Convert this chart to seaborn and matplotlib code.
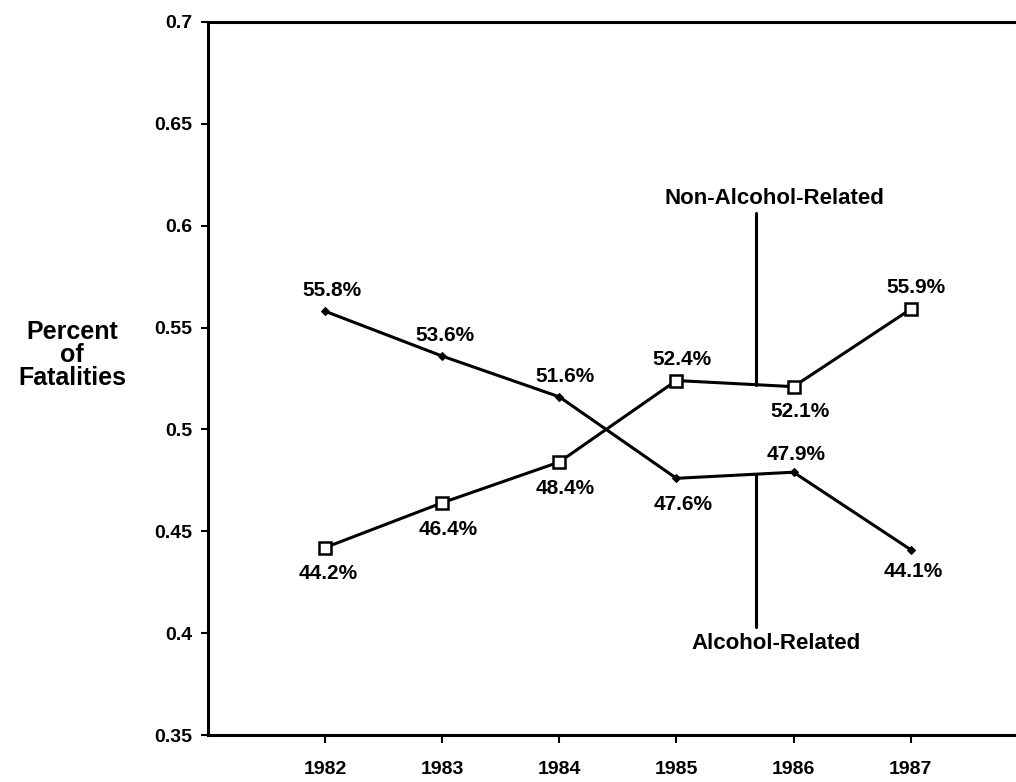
import numpy as np
import pandas as pd
import matplotlib
matplotlib.use("Agg")
import matplotlib.pyplot as plt
import seaborn as sns

# ---- data ----
years = [1982, 1983, 1984, 1985, 1986, 1987]
alcohol_related = [0.558, 0.536, 0.516, 0.476, 0.479, 0.441]
non_alcohol_related = [0.442, 0.464, 0.484, 0.524, 0.521, 0.559]
series_names = ["Alcohol-Related", "Non-Alcohol-Related"]
y_ticks = [0.35, 0.4, 0.45, 0.5, 0.55, 0.6, 0.65, 0.7]
y_tick_labels = ["0.35", "0.4", "0.45", "0.5", "0.55", "0.6", "0.65", "0.7"]
x_tick_labels = ["1982", "1983", "1984", "1985", "1986", "1987"]
y_label = "Percent\nof\nFatalities"

sns.set_style("ticks")
plt.rcParams["font.family"] = ["Liberation Sans", "DejaVu Sans"]
plt.rcParams["font.weight"] = "bold"
plt.rcParams["text.color"] = "black"
plt.rcParams["xtick.color"] = "black"
plt.rcParams["ytick.color"] = "black"

df = pd.DataFrame({
    "year": years * 2,
    "value": alcohol_related + non_alcohol_related,
    "series": [series_names[0]] * len(years) + [series_names[1]] * len(years),
})

W, H = 1016, 782
fig = plt.figure(figsize=(W / 100, H / 100), dpi=100)
ax = fig.add_axes([208 / W, 1 - 735 / H, (W - 208) / W, (735 - 22) / H])

sns.lineplot(data=df[df.series == series_names[0]], x="year", y="value",
             ax=ax, color="black", linewidth=2.2, marker="D",
             markersize=3.8, markerfacecolor="black", markeredgecolor="black",
             legend=False)
sns.lineplot(data=df[df.series == series_names[1]], x="year", y="value",
             ax=ax, color="black", linewidth=2.2, marker="s",
             markersize=8.5, markerfacecolor="white", markeredgecolor="black",
             markeredgewidth=1.8, legend=False)

# point labels (offsets in points)
alc_off = [(5, 15), (2, 15), (4, 15), (5, -19), (2, 13), (2, -16)]
non_off = [(2, -19), (4, -19), (4, -19), (4, 15), (5, -18), (4, 16)]
for yr, v, off in zip(years, alcohol_related, alc_off):
    ax.annotate(f"{v * 100:.1f}%", (yr, v), xytext=off, textcoords="offset points",
                ha="center", va="center", fontsize=15, fontweight="bold")
for yr, v, off in zip(years, non_alcohol_related, non_off):
    ax.annotate(f"{v * 100:.1f}%", (yr, v), xytext=off, textcoords="offset points",
                ha="center", va="center", fontsize=15, fontweight="bold")

# leader lines with series names
lead_x = 1985.68
ny = np.interp(lead_x, years, non_alcohol_related)
ay = np.interp(lead_x, years, alcohol_related)
ax.plot([lead_x, lead_x], [0.606, ny], color="black", linewidth=2.2)
ax.text(1985.84, 0.6136, series_names[1], ha="center", va="center",
        fontsize=16, fontweight="bold")
ax.plot([lead_x, lead_x], [0.403, ay], color="black", linewidth=2.2)
ax.text(1985.85, 0.395, series_names[0], ha="center", va="center",
        fontsize=16, fontweight="bold")

ax.set_xlim(1981, 1987.9)
ax.set_ylim(0.35, 0.7)
ax.set_xticks(years)
ax.set_xticklabels(x_tick_labels, fontsize=14, fontweight="bold")
ax.set_yticks(y_ticks)
ax.set_yticklabels(y_tick_labels, fontsize=14, fontweight="bold")
ax.tick_params(axis="y", direction="out", length=5, width=1.5, pad=6)
ax.tick_params(axis="x", direction="out", length=6, width=1.5, pad=13)
ax.set_xlabel("")
ax.set_ylabel("")
for s in ["left", "top", "bottom"]:
    ax.spines[s].set_linewidth(2.2)
    ax.spines[s].set_color("black")
ax.spines["right"].set_visible(False)

fig.text(72 / W, 1 - 355 / H, y_label, ha="center", va="center",
         fontsize=18, fontweight="bold", linespacing=0.95)

fig.savefig("out.png", dpi=100)
